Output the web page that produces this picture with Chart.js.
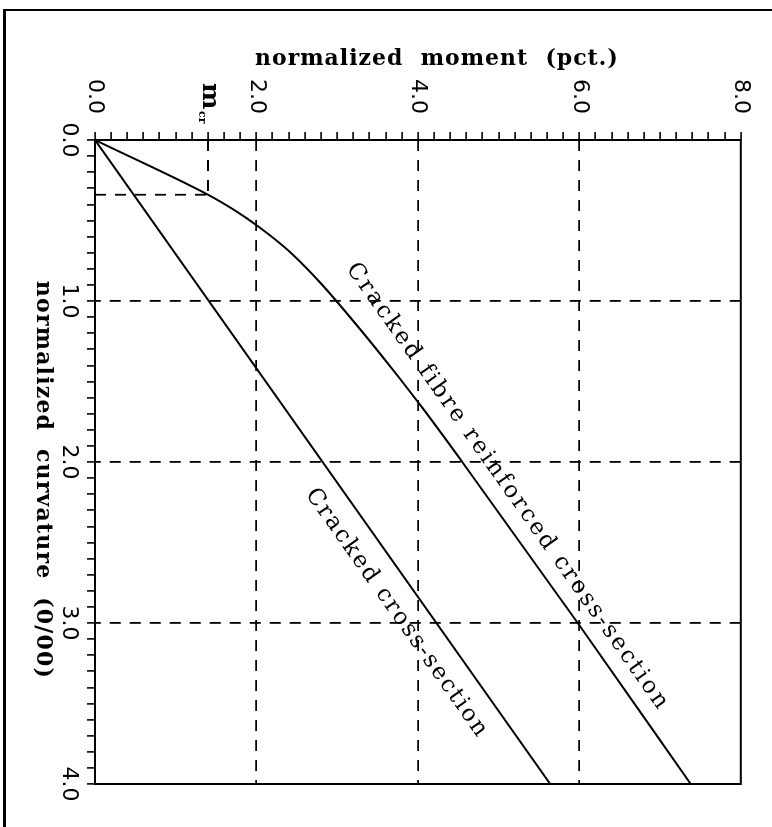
<!DOCTYPE html>
<html>
<head>
<meta charset="utf-8">
<script src="https://cdn.jsdelivr.net/npm/chart.js@4.4.1/dist/chart.umd.min.js"></script>
<style>
  html, body { margin: 0; padding: 0; background: #fff; }
  body { width: 772px; height: 827px; overflow: hidden; position: relative; }
  /* chart is drawn upright, then turned a quarter clockwise like the scan */
  #wrap { position: absolute; left: 0; top: 0; width: 827px; height: 772px;
          transform-origin: 0 0; transform: translate(772px, 0) rotate(90deg); }
</style>
</head>
<body>
<div id="wrap"><canvas id="graficoMomento" width="827" height="772"></canvas></div>
<script>
// tick labels
const curvatureTicks = [0, 1, 2, 3, 4];
const momentTicks = [0, 2, 4, 6, 8];

// cracked fibre reinforced cross-section (curvature o/oo -> moment pct.)
const fibreCurvature = [0, 0.34, 0.44, 0.54, 0.68, 0.87, 1.0, 1.32, 1.64, 2.0, 3.0, 4.0];
const fibreMoment    = [0, 1.40, 1.74, 2.03, 2.38, 2.76, 2.99, 3.52, 4.02, 4.55, 5.98, 7.38];

// cracked cross-section
const crackedCurvature = [0, 4.0];
const crackedMoment    = [0, 5.64];

// cracking moment
const mcrCurvature = 0.34;
const mcrMoment = 1.40;

const toPoints = (xs, ys) => xs.map((x, i) => ({ x: x, y: ys[i] }));
const isLabelled = (v, list) => list.some(t => Math.abs(t - v) < 1e-6);
const isInner = (v, list) => isLabelled(v, list.slice(1, -1));

const slope = (crackedMoment[1] - crackedMoment[0]) / (crackedCurvature[1] - crackedCurvature[0]);

// text start in data units, text runs parallel to the cracked line
const curveLabels = [
  { text: 'Cracked fibre reinforced cross-section', c: 0.80, m: 3.11, length: 540 },
  { text: 'Cracked cross-section', c: 2.20, m: 2.605, length: 298 }
];

const extras = {
  id: 'extras',
  afterDraw(chart) {
    const ctx = chart.ctx;
    const xs = chart.scales.x, ys = chart.scales.y;
    const a = chart.chartArea;
    const spacing = 'letterSpacing' in ctx;
    ctx.save();
    ctx.strokeStyle = '#000';
    ctx.fillStyle = '#000';

    // plot box
    ctx.lineWidth = 2;
    ctx.strokeRect(a.left, a.top, a.right - a.left, a.bottom - a.top);

    // page frame (left and top edge of the scan)
    ctx.lineWidth = 3;
    ctx.beginPath(); ctx.moveTo(10, 767.5); ctx.lineTo(827, 767.5); ctx.stroke();
    ctx.lineWidth = 2;
    ctx.beginPath(); ctx.moveTo(10, 0); ctx.lineTo(10, 769); ctx.stroke();

    // labels along the curves
    ctx.font = '23px "DejaVu Serif"';
    ctx.textAlign = 'left';
    ctx.textBaseline = 'alphabetic';
    curveLabels.forEach(l => {
      if (spacing) {
        ctx.letterSpacing = '0px';
        const w = ctx.measureText(l.text).width;
        ctx.letterSpacing = ((l.length - w) / (l.text.length - 1)).toFixed(2) + 'px';
      }
      const px = xs.getPixelForValue(l.c), py = ys.getPixelForValue(l.m);
      const qx = xs.getPixelForValue(l.c + 1), qy = ys.getPixelForValue(l.m + slope);
      ctx.save();
      ctx.translate(px, py);
      ctx.rotate(Math.atan2(qy - py, qx - px));
      ctx.fillText(l.text, 0, 0);
      ctx.restore();
    });
    if (spacing) ctx.letterSpacing = '0px';

    // m_cr
    const my = ys.getPixelForValue(mcrMoment);
    ctx.font = 'bold 25px "DejaVu Serif"';
    ctx.fillText('m', a.left - 57, my + 5);
    ctx.font = 'bold 11px "DejaVu Serif"';
    ctx.fillText('cr', a.left - 29, my + 9);

    // axis titles
    ctx.font = 'bold 22px "DejaVu Serif"';
    if (spacing) ctx.letterSpacing = '1.2px';
    ctx.textAlign = 'center';
    ctx.fillText('normalized  curvature  (0/00)', (a.left + a.right) / 2 + 18, a.bottom + 58);
    if (spacing) ctx.letterSpacing = '1px';
    ctx.save();
    ctx.translate(a.left - 75, (a.top + a.bottom) / 2 - 19);
    ctx.rotate(-Math.PI / 2);
    ctx.fillText('normalized  moment  (pct.)', 0, 0);
    ctx.restore();
    ctx.restore();
  }
};

Chart.defaults.font.family = 'DejaVu Sans';
Chart.defaults.color = '#000';

const ctx = document.getElementById('graficoMomento').getContext('2d');

const graficoMomento = new Chart(ctx, {
  type: 'scatter',
  data: {
    datasets: [
      {
        label: 'Cracked fibre reinforced cross-section',
        data: toPoints(fibreCurvature, fibreMoment),
        showLine: true,
        borderColor: '#000',
        borderWidth: 2,
        pointRadius: 0,
        cubicInterpolationMode: 'monotone'
      },
      {
        label: 'Cracked cross-section',
        data: toPoints(crackedCurvature, crackedMoment),
        showLine: true,
        borderColor: '#000',
        borderWidth: 2,
        pointRadius: 0
      },
      {
        label: 'mcr moment',
        data: [{ x: 0, y: mcrMoment }, { x: mcrCurvature, y: mcrMoment }],
        showLine: true,
        borderColor: '#000',
        borderWidth: 1.8,
        borderDash: [11, 9],
        pointRadius: 0
      },
      {
        label: 'mcr curvature',
        data: [{ x: mcrCurvature, y: 0 }, { x: mcrCurvature, y: mcrMoment }],
        showLine: true,
        borderColor: '#000',
        borderWidth: 1.8,
        borderDash: [11, 9],
        pointRadius: 0
      }
    ]
  },
  options: {
    responsive: false,
    animation: false,
    devicePixelRatio: 1,
    layout: { padding: { left: 0, top: 31, right: 43, bottom: 0 } },
    plugins: {
      legend: { display: false },
      tooltip: { enabled: false }
    },
    scales: {
      x: {
        type: 'linear',
        position: 'bottom',
        min: 0,
        max: 4,
        afterFit: s => { s.height = 95; },
        border: { display: false, dash: [11, 9] },
        grid: {
          color: c => isInner(c.tick.value, curvatureTicks) ? '#000' : 'rgba(0,0,0,0)',
          lineWidth: 1.8,
          tickColor: '#000',
          tickWidth: 1.6,
          tickLength: 8
        },
        ticks: {
          stepSize: 0.1,
          autoSkip: false,
          maxRotation: 0,
          minRotation: 0,
          padding: 5,
          color: '#000',
          font: { size: 22 },
          callback: v => isLabelled(v, curvatureTicks) ? v.toFixed(1) : ''
        }
      },
      y: {
        type: 'linear',
        position: 'left',
        min: 0,
        max: 8,
        afterFit: s => { s.width = 140; },
        border: { display: false, dash: [11, 9] },
        grid: {
          color: c => isInner(c.tick.value, momentTicks) ? '#000' : 'rgba(0,0,0,0)',
          lineWidth: 1.8,
          tickColor: '#000',
          tickWidth: 1.6,
          tickLength: 8
        },
        ticks: {
          stepSize: 0.2,
          autoSkip: false,
          padding: 18,
          color: '#000',
          font: { size: 22 },
          callback: v => isLabelled(v, momentTicks) ? v.toFixed(1) : ''
        }
      }
    }
  },
  plugins: [extras]
});
</script>
</body>
</html>
